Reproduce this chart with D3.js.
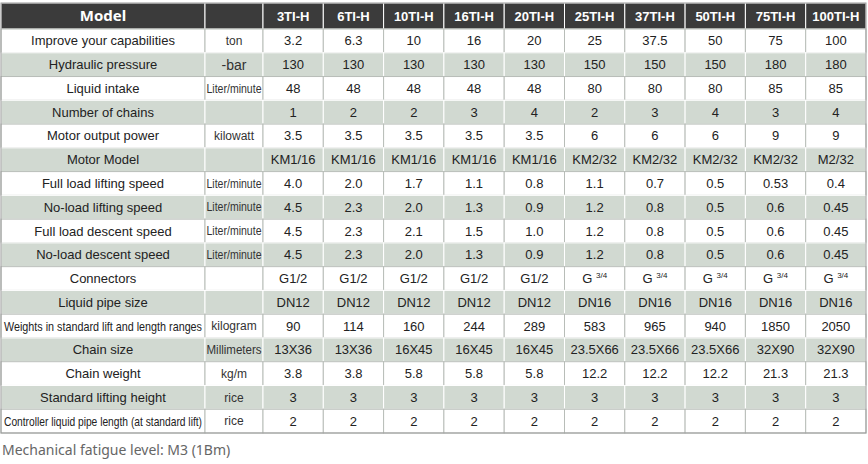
<!DOCTYPE html>
<html><head><meta charset="utf-8">
<script src="https://cdn.jsdelivr.net/npm/d3@7"></script>
<style>body{margin:0;background:#fff}</style></head>
<body><div id="chart"></div>
<script>
const models = ["3TI-H","6TI-H","10TI-H","16TI-H","20TI-H","25TI-H","37TI-H","50TI-H","75TI-H","100TI-H"];
const labels = ["Improve your capabilities","Hydraulic pressure","Liquid intake","Number of chains","Motor output power","Motor Model","Full load lifting speed","No-load lifting speed","Full load descent speed","No-load descent speed","Connectors","Liquid pipe size","Weights in standard lift and length ranges","Chain size","Chain weight","Standard lifting height","Controller liquid pipe length (at standard lift)"];
const units = ["ton","-bar","Liter/minute","","kilowatt","","Liter/minute","Liter/minute","Liter/minute","Liter/minute","","","kilogram","Millimeters","kg/m","rice","rice"];
const values = [
  ["3.2","6.3","10","16","20","25","37.5","50","75","100"],
  ["130","130","130","130","130","150","150","150","180","180"],
  ["48","48","48","48","48","80","80","80","85","85"],
  ["1","2","2","3","4","2","3","4","3","4"],
  ["3.5","3.5","3.5","3.5","3.5","6","6","6","9","9"],
  ["KM1/16","KM1/16","KM1/16","KM1/16","KM1/16","KM2/32","KM2/32","KM2/32","KM2/32","M2/32"],
  ["4.0","2.0","1.7","1.1","0.8","1.1","0.7","0.5","0.53","0.4"],
  ["4.5","2.3","2.0","1.3","0.9","1.2","0.8","0.5","0.6","0.45"],
  ["4.5","2.3","2.1","1.5","1.0","1.2","0.8","0.5","0.6","0.45"],
  ["4.5","2.3","2.0","1.3","0.9","1.2","0.8","0.5","0.6","0.45"],
  ["G1/2","G1/2","G1/2","G1/2","G1/2","G 3/4","G 3/4","G 3/4","G 3/4","G 3/4"],
  ["DN12","DN12","DN12","DN12","DN12","DN16","DN16","DN16","DN16","DN16"],
  ["90","114","160","244","289","583","965","940","1850","2050"],
  ["13X36","13X36","16X45","16X45","16X45","23.5X66","23.5X66","23.5X66","32X90","32X90"],
  ["3.8","3.8","5.8","5.8","5.8","12.2","12.2","12.2","21.3","21.3"],
  ["3","3","3","3","3","3","3","3","3","3"],
  ["2","2","2","2","2","2","2","2","2","2"]
];
const note = "Mechanical fatigue level: M3 (1Bm)";

const W = 868, H = 464;
const font = "'Liberation Sans Narrow','Arial Narrow',sans-serif";
const svg = d3.select("#chart").append("svg").attr("width", W).attr("height", H);

// squeeze a text horizontally if it is wider than the cell
function fit(t, maxW) {
  const w = t.node().getComputedTextLength();
  if (w > maxW) t.attr("textLength", maxW).attr("lengthAdjust", "spacingAndGlyphs");
}

const cols = ["label","unit"].concat(models);
const x = d3.scaleBand().domain(models).range([263, 866]);
const colX = c => c === "label" ? 1 : c === "unit" ? 205 : x(c);
const colW = c => c === "label" ? 204 : c === "unit" ? 58 : x.bandwidth();
const headH = 26;
const y = d3.scaleBand().domain(d3.range(labels.length)).range([3 + headH, 433]);

// header
cols.forEach(c => {
  svg.append("rect").attr("x", colX(c)).attr("y", 3).attr("width", colW(c)).attr("height", headH)
    .attr("fill", "#3b3b3b").attr("stroke", "#fff").attr("stroke-width", 1);
});
svg.append("text").attr("x", 103).attr("y", 3 + headH / 2).attr("dy", "0.35em")
  .attr("text-anchor", "middle").attr("fill", "#fff").attr("font-family", "'Noto Sans',sans-serif")
  .attr("font-weight", "bold").attr("font-size", 15).text("Model");
models.forEach(m => {
  svg.append("text").attr("x", x(m) + x.bandwidth() / 2).attr("y", 3 + headH / 2).attr("dy", "0.35em")
    .attr("text-anchor", "middle").attr("fill", "#fff").attr("font-family", font)
    .attr("font-weight", "bold").attr("font-size", 13).text(m);
});

labels.forEach((lab, i) => {
  const gray = i % 2 === 1;
  const g = svg.append("g").attr("transform", `translate(0,${y(i)})`);
  cols.forEach(c => {
    g.append("rect").attr("x", colX(c)).attr("y", 0).attr("width", colW(c)).attr("height", y.bandwidth())
      .attr("fill", gray ? "#d1d9d1" : "#fff").attr("stroke", gray ? "#fff" : "#b8bdb8").attr("stroke-width", 1);
  });
  const ty = y.bandwidth() / 2;
  const lt = g.append("text").attr("x", 103).attr("y", ty).attr("dy", "0.35em").attr("text-anchor", "middle")
    .attr("font-family", font).attr("font-size", 13).attr("fill", "#222").text(lab);
  fit(lt, 198);
  const ut = g.append("text").attr("x", 234).attr("y", ty).attr("dy", "0.35em").attr("text-anchor", "middle")
    .attr("font-family", font).attr("font-size", units[i] === "-bar" ? 14 : 12).attr("fill", "#333").text(units[i]);
  fit(ut, 55);
  models.forEach((m, j) => {
    const v = values[i][j];
    const t = g.append("text").attr("x", x(m) + x.bandwidth() / 2).attr("y", ty).attr("dy", "0.35em")
      .attr("text-anchor", "middle").attr("font-family", font).attr("font-size", 13).attr("fill", "#222");
    if (v.startsWith("G ")) {
      t.append("tspan").text("G ");
      t.append("tspan").attr("font-size", 8).attr("dy", "-0.6em").text(v.slice(2));
    } else { t.text(v); fit(t, x.bandwidth() - 4); }
  });
});
// outer border
svg.append("rect").attr("x", 1).attr("y", 3).attr("width", 865).attr("height", 430)
  .attr("fill", "none").attr("stroke", "#999");

svg.append("text").attr("x", 2).attr("y", 455).attr("font-family", "'Noto Sans',sans-serif")
  .attr("font-size", 14).attr("fill", "#666").text(note);
</script></body></html>
